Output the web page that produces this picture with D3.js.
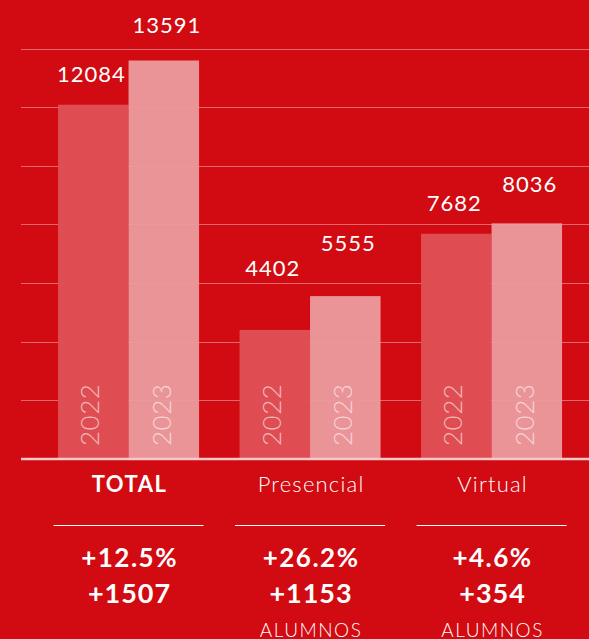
<!DOCTYPE html>
<html>
<head>
<meta charset="utf-8">
<script src="https://cdn.jsdelivr.net/npm/d3@7"></script>
<style>
  html, body { margin: 0; padding: 0; background: #d20a11; }
  svg { display: block; font-family: Lato, "Open Sans", sans-serif; }
</style>
</head>
<body>
<div id="chart"></div>
<script>
// Categories and series
const groups = ['TOTAL', 'Presencial', 'Virtual'];
const years = ['2022', '2023'];
const values2022 = [12084, 4402, 7682];
const values2023 = [13591, 5555, 8036];
const pctChange = ['+12.5%', '+26.2%', '+4.6%'];
const absChange = ['+1507', '+1153', '+354'];
const unitLabel = ['', 'ALUMNOS', 'ALUMNOS'];
const gridTicks = [2000, 4000, 6000, 8000, 10000, 12000, 14000];

const width = 589, height = 639;

const svg = d3.select('#chart').append('svg')
  .attr('width', width)
  .attr('height', height);

svg.append('rect')
  .attr('width', width)
  .attr('height', height)
  .attr('fill', '#d20a11');

// scales
const x = d3.scaleBand()
  .domain(groups)
  .range([37.8, 582.3])
  .paddingInner(0.223)
  .paddingOuter(0.1115);

const xYear = d3.scaleBand()
  .domain(years)
  .range([0, x.bandwidth()]);

const y = d3.scaleLinear()
  .domain([0, 14000])
  .range([459, 48.5]);

// build rows
const rows = [];
groups.forEach((g, i) => {
  rows.push({group: g, year: '2022', value: values2022[i]});
  rows.push({group: g, year: '2023', value: values2023[i]});
});

// grid lines
svg.append('g')
  .selectAll('line')
  .data(gridTicks)
  .enter().append('line')
  .attr('x1', 21)
  .attr('x2', width)
  .attr('y1', d => Math.round(y(d)) + 0.5)
  .attr('y2', d => Math.round(y(d)) + 0.5)
  .attr('stroke', 'rgba(255,255,255,0.38)')
  .attr('stroke-width', 1);

// bars
const barColor = {'2022': '#df4f56', '2023': '#eb999d'};
svg.append('g')
  .selectAll('rect')
  .data(rows)
  .enter().append('rect')
  .attr('x', d => x(d.group) + xYear(d.year))
  .attr('width', xYear.bandwidth())
  .attr('y', d => y(d.value))
  .attr('height', d => y(0) - y(d.value))
  .attr('fill', d => barColor[d.year])
  .attr('fill-opacity', 0.97);

// baseline
svg.append('line')
  .attr('x1', 21)
  .attr('x2', width)
  .attr('y1', y(0))
  .attr('y2', y(0))
  .attr('stroke', '#f3c9ca')
  .attr('stroke-width', 2.5);

// year labels inside bars
svg.append('g')
  .selectAll('text')
  .data(rows)
  .enter().append('text')
  .attr('transform', d => 'translate(' + (x(d.group) + xYear(d.year) + xYear.bandwidth() / 2 + (d.year === '2022' ? 6 : 7)) + ',' + 446 + ') rotate(-90)')
  .attr('fill', 'rgba(255,255,255,0.6)')
  .attr('font-size', 26)
  .attr('font-weight', 300)
  .attr('letter-spacing', 0.5)
  .text(d => d.year);

// value labels above bars (lift varies a bit in the original)
const lift = [23, 27, 54, 45, 23, 31];
svg.append('g')
  .selectAll('text')
  .data(rows)
  .enter().append('text')
  .attr('x', (d, i) => x(d.group) + xYear(d.year) + xYear.bandwidth() / 2 - (d.year === '2022' ? 2 : -3))
  .attr('y', (d, i) => y(d.value) - lift[i])
  .attr('text-anchor', 'middle')
  .attr('fill', '#fff')
  .attr('font-size', 22)
  .attr('letter-spacing', 1)
  .text(d => d.value);

// category labels
const cx = g => x(g) + x.bandwidth() / 2;

svg.append('g')
  .selectAll('text')
  .data(groups)
  .enter().append('text')
  .attr('x', d => cx(d) + 1)
  .attr('y', 492)
  .attr('text-anchor', 'middle')
  .attr('fill', '#fff')
  .attr('font-size', 22)
  .attr('font-weight', (d, i) => i === 0 ? 700 : 300)
  .attr('letter-spacing', (d, i) => i === 0 ? 1.5 : 1.2)
  .text(d => d);

// separator lines
svg.append('g')
  .selectAll('line')
  .data(groups)
  .enter().append('line')
  .attr('x1', d => cx(d) - 75)
  .attr('x2', d => cx(d) + 75)
  .attr('y1', 525.5)
  .attr('y2', 525.5)
  .attr('stroke', '#fff')
  .attr('stroke-width', 1.2);

// change figures
svg.append('g')
  .selectAll('text')
  .data(groups)
  .enter().append('text')
  .attr('x', d => cx(d) + 1)
  .attr('y', 567)
  .attr('text-anchor', 'middle')
  .attr('fill', '#fff')
  .attr('font-size', 26)
  .attr('font-weight', 700)
  .attr('letter-spacing', 1.5)
  .text((d, i) => pctChange[i]);

svg.append('g')
  .selectAll('text')
  .data(groups)
  .enter().append('text')
  .attr('x', d => cx(d) + 1)
  .attr('y', 603)
  .attr('text-anchor', 'middle')
  .attr('fill', '#fff')
  .attr('font-size', 27)
  .attr('font-weight', 700)
  .attr('letter-spacing', 1)
  .text((d, i) => absChange[i]);

svg.append('g')
  .selectAll('text')
  .data(groups)
  .enter().append('text')
  .attr('x', d => cx(d) + 1)
  .attr('y', 637)
  .attr('text-anchor', 'middle')
  .attr('fill', '#fff')
  .attr('font-size', 19)
  .attr('font-weight', 300)
  .attr('letter-spacing', 1.5)
  .text((d, i) => unitLabel[i]);
</script>
</body>
</html>
